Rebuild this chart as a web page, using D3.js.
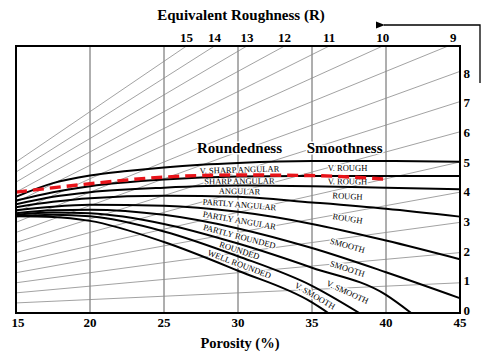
<!DOCTYPE html>
<html><head><meta charset="utf-8">
<script src="https://cdn.jsdelivr.net/npm/d3@7"></script>
<style>body{margin:0;background:#fff}</style></head>
<body><svg id="chart" width="487" height="357"></svg>
<script>
// ---------- data ----------
const porosityTicks = [15, 20, 25, 30, 35, 40, 45];
const gridPorosity = [20, 25, 30, 35, 40];
const rightTicks = [0, 1, 2, 3, 4, 5, 6, 7, 8];
const roughnessLines = [1, 2, 3, 4, 5, 6, 7, 8, 9, 10, 11, 12, 13, 14, 15];
const topTicks = [15, 14, 13, 12, 11, 10, 9];
const roundedness = ["V. SHARP ANGULAR", "SHARP ANGULAR", "ANGULAR", "PARTLY ANGULAR",
  "PARTLY ANGULAR", "PARTLY ROUNDED", "ROUNDED", "WELL ROUNDED"];
const smoothness = ["V. ROUGH", "V. ROUGH", "ROUGH", "ROUGH", "SMOOTH", "SMOOTH", "V. SMOOTH", "V. SMOOTH"];
// boundary curves [porosity, value]
const curve1 = [[15,3.85],[17.5,4.3],[20,4.55],[22.5,4.7],[25,4.82],[27.5,4.91],[30,4.97],[35,5.03],[40,5.03],[45,5.01]];
const curve2 = [[15,3.72],[17.5,4.0],[20,4.2],[25,4.42],[30,4.52],[35,4.54],[40,4.54],[45,4.54]];
const curve3 = [[15,3.6],[17.5,3.85],[20,4.0],[25,4.15],[30,4.22],[35,4.2],[40,4.15],[45,4.1]];
const curve4 = [[15,3.5],[17.5,3.68],[20,3.8],[25,3.88],[30,3.85],[35,3.66],[40,3.45],[45,3.19]];
const curve5 = [[15,3.4],[17.5,3.52],[20,3.58],[25,3.55],[30,3.35],[35,2.95],[40,2.4],[45,1.78]];
const curve6 = [[15,3.3],[17.5,3.4],[20,3.42],[25,3.25],[30,2.8],[35,2.15],[40,1.35],[45,0.49]];
const curve7 = [[15,3.25],[17.5,3.33],[20,3.3],[25,2.95],[30,2.3],[35,1.5],[40,0.6],[41.7,0]];
const curve8 = [[15,3.2],[17.5,3.25],[20,3.2],[25,2.7],[30,1.88],[35,0.9],[38.2,0]];
const curve9 = [[15,3.2],[17.5,3.18],[20,3.05],[25,2.35],[30,1.4],[35,0.35],[36.1,0]];
const redCurve = [[15,4.0],[20,4.28],[25,4.5],[30,4.57],[35,4.55],[40,4.43]];

// ---------- layout ----------
const svg = d3.select("#chart");
const X0 = 16, X1 = 460, Y0 = 313, Y1 = 46;
const yMax = 8.84;
const x = d3.scaleLinear().domain([15, 45]).range([X0, X1]);
const y = d3.scaleLinear().domain([0, yMax]).range([Y0, Y1]);
const yLab = d3.scaleLinear().domain([0, 8]).range([310.7, 73.3]); // right label centres
const serif = "'Liberation Serif','Times New Roman',serif";

svg.append("defs").append("clipPath").attr("id", "plot")
  .append("rect").attr("x", X0).attr("y", Y1).attr("width", X1 - X0).attr("height", Y0 - Y1);

// vertical grid
svg.append("g").selectAll("line").data(gridPorosity).join("line")
  .attr("x1", d => x(d)).attr("x2", d => x(d)).attr("y1", Y1).attr("y2", Y0)
  .attr("stroke", "#5e5e5e").attr("stroke-width", 1);

// equivalent roughness lines
svg.append("g").attr("clip-path", "url(#plot)").selectAll("line").data(roughnessLines).join("line")
  .attr("x1", x(15)).attr("y1", d => y(d / 3)).attr("x2", x(45)).attr("y2", d => y(d))
  .attr("stroke", "#8a8a8a").attr("stroke-width", 0.8);

// curve generator
const line = d3.line().x(d => x(d[0])).y(d => y(d[1])).curve(d3.curveMonotoneX);
const curves = [curve1, curve2, curve3, curve4, curve5, curve6, curve7, curve8, curve9];

// hidden helper paths to measure the curves
const helper = svg.append("g").attr("visibility", "hidden");
const nodes = curves.map(c => helper.append("path").attr("d", line(c)).node());
function yAtPix(node, px) {
  const L = node.getTotalLength();
  const end = node.getPointAtLength(L);
  if (px >= end.x) return Y0;
  let lo = 0, hi = L;
  for (let i = 0; i < 40; i++) {
    const m = (lo + hi) / 2;
    if (node.getPointAtLength(m).x < px) lo = m; else hi = m;
  }
  return node.getPointAtLength(lo).y;
}
function midLabel(i, p) {
  const px = x(p);
  const ya = yAtPix(nodes[i], px), yb = yAtPix(nodes[i + 1], px);
  const ya2 = yAtPix(nodes[i], px + 4), yb2 = yAtPix(nodes[i + 1], px + 4);
  const yc = (ya + yb) / 2, yc2 = (ya2 + yb2) / 2;
  const ang = Math.atan2(yc2 - yc, 4) * 180 / Math.PI;
  return { x: px, y: yc, a: ang };
}

// zone labels
const leftP = [30.1, 30.1, 30.1, 30.1, 30.1, 30.1, 30.1, 30.1];
const rightP = [37.4, 37.4, 37.4, 37.4, 37.4, 37.4, 37.4, 35.2];
const labG = svg.append("g").attr("font-family", serif).attr("font-size", 8.5)
  .attr("text-anchor", "middle").attr("dominant-baseline", "central")
  .attr("stroke", "#fff").attr("stroke-width", 2.5).attr("paint-order", "stroke").attr("fill", "#000");
roundedness.forEach((t, i) => {
  const m = midLabel(i, leftP[i]);
  labG.append("text").attr("transform", `translate(${m.x},${m.y}) rotate(${m.a})`).text(t);
});
smoothness.forEach((t, i) => {
  const m = midLabel(i, rightP[i]);
  labG.append("text").attr("transform", `translate(${m.x},${m.y}) rotate(${m.a})`).text(t);
});

// headings
const headG = svg.append("g").attr("font-family", serif).attr("font-weight", "bold")
  .attr("font-size", 15).attr("text-anchor", "middle")
  .attr("stroke", "#fff").attr("stroke-width", 3).attr("paint-order", "stroke").attr("fill", "#000");
headG.append("text").attr("x", x(30.1)).attr("y", 153).text("Roundedness");
headG.append("text").attr("x", x(37.2)).attr("y", 153).text("Smoothness");

// black curves
svg.append("g").attr("clip-path", "url(#plot)").selectAll("path").data(curves).join("path")
  .attr("d", line).attr("fill", "none").attr("stroke", "#000").attr("stroke-width", 2);

// red dashed
svg.append("path").attr("d", line(redCurve)).attr("fill", "none")
  .attr("stroke", "#e8141a").attr("stroke-width", 3.4).attr("stroke-dasharray", "11,6");

// frame
svg.append("rect").attr("x", X0).attr("y", Y1).attr("width", X1 - X0).attr("height", Y0 - Y1)
  .attr("fill", "none").attr("stroke", "#000").attr("stroke-width", 2);

// bottom axis labels
const tickG = svg.append("g").attr("font-family", serif).attr("font-weight", "bold").attr("font-size", 13).attr("fill", "#000");
tickG.selectAll("text.b").data(porosityTicks).join("text").attr("class", "b")
  .attr("x", d => x(d) + (d === 15 ? 2 : 0)).attr("y", 327).attr("text-anchor", "middle").text(d => d);
// right axis labels
tickG.selectAll("text.r").data(rightTicks).join("text").attr("class", "r")
  .attr("x", 463.5).attr("y", d => yLab(d) + 4.3).attr("text-anchor", "start").text(d => d);
// top labels where R lines meet the top border
tickG.selectAll("text.t").data(topTicks).join("text").attr("class", "t")
  .attr("x", d => x(15 + 30 * (yMax - d / 3) / (2 * d / 3)) + (d === 9 ? 5 : 0)).attr("y", 41.5)
  .attr("text-anchor", "middle").text(d => d);

// titles
svg.append("text").attr("x", 241).attr("y", 20).attr("text-anchor", "middle")
  .attr("font-family", serif).attr("font-weight", "bold").attr("font-size", 15).text("Equivalent Roughness (R)");
svg.append("text").attr("x", 240).attr("y", 348).attr("text-anchor", "middle")
  .attr("font-family", serif).attr("font-weight", "bold").attr("font-size", 14.5).text("Porosity (%)");

// arrow
svg.append("defs").append("marker").attr("id", "ah").attr("viewBox", "0 0 10 10")
  .attr("refX", 1).attr("refY", 5).attr("markerWidth", 7).attr("markerHeight", 7).attr("orient", "auto")
  .append("path").attr("d", "M10,1 L0,5 L10,9 Z").attr("fill", "#000");
svg.append("path").attr("d", "M480,83 L480,25 L384,25").attr("fill", "none")
  .attr("stroke", "#000").attr("stroke-width", 1.3).attr("marker-end", "url(#ah)");
</script></body></html>
